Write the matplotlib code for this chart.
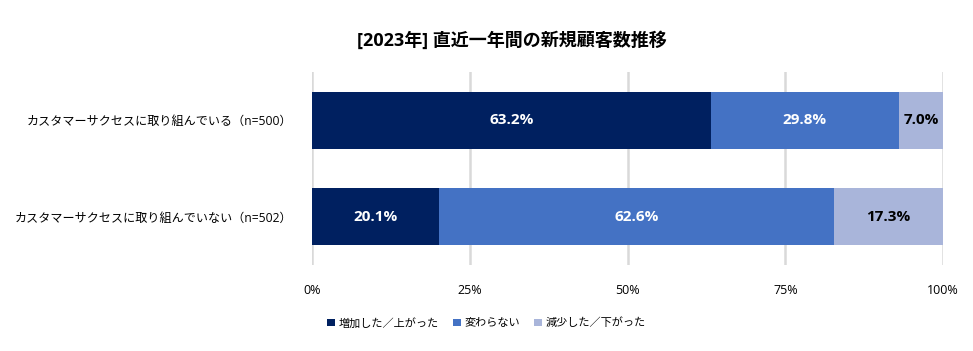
import matplotlib
matplotlib.use("Agg")
import matplotlib.pyplot as plt
import numpy as np

plt.rcParams['font.family'] = ['Open Sans', 'Noto Sans CJK JP', 'DejaVu Sans']

categories = ["カスタマーサクセスに取り組んでいる（n=500）",
              "カスタマーサクセスに取り組んでいない（n=502）"]
series_names = ["増加した／上がった", "変わらない", "減少した／下がった"]
increased = [63.2, 20.1]
unchanged = [29.8, 62.6]
decreased = [7.0, 17.3]
colors = ["#002060", "#4472C4", "#A9B5DA"]
text_colors = ["white", "white", "black"]

fig = plt.figure(figsize=(9.73, 3.51), dpi=100)
ax = fig.add_axes([0.3207, 0.245, 0.6485, 0.55])

y = np.arange(len(categories))
left = np.zeros(len(categories))
for vals, name, c, tc in zip([increased, unchanged, decreased], series_names, colors, text_colors):
    bars = ax.barh(y, vals, left=left, height=0.59, color=c, label=name, zorder=3)
    for b, v in zip(bars, vals):
        ax.text(b.get_x() + b.get_width() / 2, b.get_y() + b.get_height() / 2,
                f"{v:.1f}%", ha="center", va="center", color=tc,
                fontsize=11, fontweight="bold", zorder=4)
    left += np.array(vals)

ax.set_xlim(0, 100)
ax.set_ylim(1.5, -0.5)
ax.set_xticks([0, 25, 50, 75, 100])
ax.set_xticklabels(["0%", "25%", "50%", "75%", "100%"], fontsize=9)
ax.set_yticks(y)
ax.set_yticklabels(categories, fontsize=8.7)
ax.tick_params(length=0)
ax.tick_params(axis="x", pad=14)
ax.tick_params(axis="y", pad=14)
ax.grid(axis="x", color="#D9D9D9", linewidth=1.8, zorder=0)
for s in ax.spines.values():
    s.set_visible(False)

fig.text(0.526, 0.885, "[2023年] 直近一年間の新規顧客数推移", ha="center", va="center",
         fontsize=13, fontweight="bold")
fig.legend(loc="center", bbox_to_anchor=(0.5, 0.077), ncol=3, frameon=False,
           fontsize=8, handlelength=0.7, handleheight=0.7, columnspacing=1.3,
           handletextpad=0.3)

fig.savefig("out.png", dpi=100)
